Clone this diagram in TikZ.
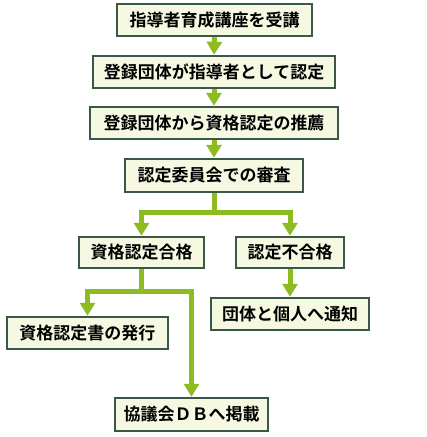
\documentclass[tikz,border=0pt]{standalone}
\usepackage{fontspec}
\setmainfont{Noto Sans CJK JP}[BoldFont={Noto Sans CJK JP Bold}]
\usetikzlibrary{arrows.meta}
\definecolor{boxline}{HTML}{3A5848}
\definecolor{boxfill}{HTML}{F6F8E2}
\definecolor{arrgreen}{HTML}{8CBB22}
\begin{document}
\begin{tikzpicture}[x=1pt,y=-1pt,
  box/.style={draw=boxline,fill=boxfill,line width=2.5pt,inner sep=0pt,
    font=\fontsize{17pt}{19pt}\selectfont\bfseries},
  arr/.style={draw=arrgreen,line width=5pt,-{Triangle[width=15pt,length=13pt]}}]
\useasboundingbox (0,0) rectangle (427,437);
\node[box,minimum width=195pt,minimum height=32pt] (b1) at (214.5,20) {指導者育成講座を受講};
\node[box,minimum width=242pt,minimum height=32pt] (b2) at (214,72) {登録団体が指導者として認定};
\node[box,minimum width=248pt,minimum height=32pt] (b3) at (214,123) {登録団体から資格認定の推薦};
\node[box,minimum width=178pt,minimum height=33pt] (b4) at (214,175.5) {認定委員会での審査};
\node[box,minimum width=125pt,minimum height=31pt] (b5) at (141.5,252.5) {資格認定合格};
\node[box,minimum width=108pt,minimum height=31pt] (b6) at (290,252.5) {認定不合格};
\node[box,minimum width=158pt,minimum height=32pt] (b7) at (290,314) {団体と個人へ通知};
\node[box,minimum width=161pt,minimum height=32pt] (b8) at (87.5,333) {資格認定書の発行};
\node[box,minimum width=153pt,minimum height=33pt] (b9) at (191.5,414.5) {協議会ＤＢへ掲載};
\coordinate (j1) at (214,212);
\coordinate (j2) at (141.5,291);
\draw[arr] (b1.south) -- (b2.north);
\draw[arr] (b2.south) -- (b3.north);
\draw[arr] (b3.south) -- (b4.north);
\draw[arr] (b4.south) -- (j1) -| (b5.north);
\draw[arr] (j1) -| (b6.north);
\draw[arr] (b6.south) -- (b7.north);
\draw[arr] (b5.south) -- (j2) -| (b8.north);
\draw[arr] (j2) -| (b9.north);
\end{tikzpicture}
\end{document}
